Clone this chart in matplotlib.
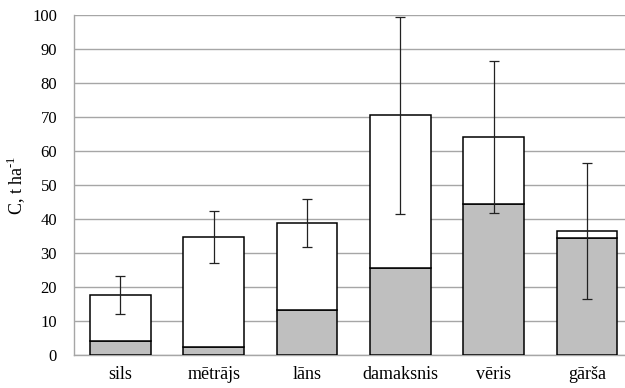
import numpy as np
import matplotlib.pyplot as plt

plt.rcParams['font.family'] = ['Liberation Serif', 'DejaVu Serif']
plt.rcParams['mathtext.fontset'] = 'custom'
plt.rcParams['mathtext.rm'] = 'Liberation Serif'

types = ['sils', 'mētrājs', 'lāns', 'damaksnis', 'vēris', 'gārša']
lower = [4.0, 2.4, 13.2, 25.7, 44.5, 34.5]
total = [17.7, 34.8, 38.8, 70.5, 64.2, 36.5]
err = [5.6, 7.6, 7.0, 29.0, 22.3, 19.9]

upper = np.array(total) - np.array(lower)
x = np.arange(len(types))

fig = plt.figure(figsize=(6.25, 3.88), dpi=100)
ax = fig.add_axes([0.118, 0.085, 0.896, 0.876])

w = 0.65
ax.bar(x, lower, w, color='#bfbfbf', edgecolor='black', linewidth=1.1, zorder=3)
ax.bar(x, upper, w, bottom=lower, color='white', edgecolor='black',
       linewidth=1.1, zorder=3)
ax.errorbar(x, total, yerr=err, fmt='none', ecolor='#222222',
            elinewidth=0.9, capsize=3.5, capthick=0.9, zorder=4)

ax.set_xlim(-0.5, 5.5)
ax.set_ylim(0, 100)
ax.set_yticks(np.arange(0, 101, 10))
ax.set_xticks(x)
ax.set_xticklabels(types, fontsize=13)
ax.tick_params(axis='both', length=0)
ax.tick_params(axis='y', pad=12, labelsize=12)
ax.tick_params(axis='x', pad=8)
ax.yaxis.grid(True, color='#a6a6a6', linewidth=1.0, zorder=0)
ax.set_axisbelow(True)

for s in ['top', 'right']:
    ax.spines[s].set_visible(False)
for s in ['left', 'bottom']:
    ax.spines[s].set_color('#a6a6a6')
    ax.spines[s].set_linewidth(1.0)

ax.set_ylabel(r'C, t ha$^{\text{-1}}$', fontsize=13, labelpad=3.5)

fig.savefig('out.png', dpi=100)
